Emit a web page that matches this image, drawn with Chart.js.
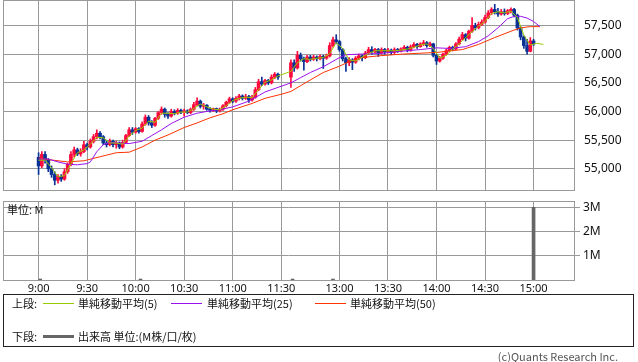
<!DOCTYPE html>
<html lang="ja">
<head>
<meta charset="utf-8">
<script src="https://cdn.jsdelivr.net/npm/chart.js@4.4.1/dist/chart.umd.min.js"></script>
<style>
  body { margin: 0; background: #fff; }
  #wrap { position: relative; width: 638px; height: 362px; overflow: hidden; background: #fff;
          font-family: "Noto Sans CJK JP", "Noto Sans", sans-serif; }
  #wrap canvas { position: absolute; left: 0; }
  .t { position: absolute; font-size: 11px; line-height: 13px; color: #111; white-space: nowrap; }
  .ln { position: absolute; width: 31px; height: 1px; }
</style>
</head>
<body>
<div id="wrap">
  <canvas id="price" width="638" height="191" style="top:0"></canvas>
  <canvas id="volume" width="638" height="100" style="top:195px"></canvas>
  <div class="t" style="left:7px;top:203px">単位: M</div>

  <div style="position:absolute;left:3px;top:294px;width:629px;height:51px;border:1px solid #222"></div>
  <div class="t" style="left:12px;top:297px">上段:</div>
  <div class="ln" style="left:43px;top:303px;background:#99cc00"></div>
  <div class="t" style="left:78px;top:297px">単純移動平均(5)</div>
  <div class="ln" style="left:171px;top:303px;background:#9911ee"></div>
  <div class="t" style="left:207px;top:297px">単純移動平均(25)</div>
  <div class="ln" style="left:315px;top:303px;background:#ff3300"></div>
  <div class="t" style="left:350px;top:297px">単純移動平均(50)</div>
  <div class="t" style="left:12px;top:330px">下段:</div>
  <div class="ln" style="left:43px;top:335px;height:3px;background:#666"></div>
  <div class="t" style="left:78px;top:330px">出来高 単位:(M株/口/枚)</div>
  <div class="t" style="right:20px;top:350px;color:#555">(c)Quants Research Inc.</div>
</div>

<script>
// 2-minute candles (open, high, low, close): 9:00-11:28, then 12:30-15:00
const opens = [
  55200, 55050, 55250, 55150, 55000, 54900, 54800, 54870, 54820, 54950, 55080, 55250, 55330, 55260, 55300, 55420,
  55380, 55480, 55560, 55620, 55560, 55450, 55420, 55480, 55420, 55450, 55380, 55460, 55580, 55680, 55640, 55700,
  55650, 55780, 55900, 55800, 55760, 55880, 55980, 56040, 55950, 55920, 56000, 55970, 56020, 55990, 56010, 55980,
  56040, 56120, 56180, 56090, 56110, 56040, 56020, 56050, 56010, 56040, 56100, 56160, 56220, 56180, 56230, 56270,
  56230, 56260, 56200, 56250, 56380, 56520, 56480, 56540, 56500, 56600, 56650,
  56600, 56850, 56760, 56980, 56920, 56870, 56950, 56910, 56950, 56920, 56960, 56930, 56970, 57150, 57250, 57220,
  57080, 56920, 56850, 56900, 56860, 56930, 56970, 56940, 57020, 57080, 57040, 57080, 57020, 57080, 57040, 57070,
  57030, 57080, 57050, 57090, 57120, 57070, 57130, 57170, 57130, 57180, 57200, 57150, 57180, 56980, 56880, 56930,
  57000, 57060, 57120, 57090, 57180, 57260, 57340, 57280, 57400, 57500, 57460, 57520, 57560, 57640, 57720, 57780,
  57740, 57700, 57740, 57710, 57760, 57780, 57680, 57460, 57300, 57150, 57050, 57230
];
const highs = [
  55280, 55300, 55300, 55180, 55050, 54950, 54900, 54900, 55000, 55100, 55300, 55380, 55360, 55350, 55480, 55450,
  55520, 55600, 55680, 55650, 55580, 55500, 55520, 55500, 55480, 55470, 55500, 55600, 55720, 55720, 55720, 55720,
  55820, 55940, 55930, 55840, 55900, 56000, 56080, 56060, 55980, 56040, 56030, 56050, 56040, 56040, 56030, 56060,
  56160, 56240, 56200, 56140, 56120, 56070, 56060, 56060, 56060, 56120, 56180, 56250, 56240, 56260, 56300, 56290,
  56300, 56280, 56280, 56420, 56560, 56600, 56560, 56560, 56640, 56680, 56670,
  56900, 56900, 57050, 57020, 56950, 56980, 56980, 56980, 56970, 56990, 56980, 57000, 57200, 57300, 57340, 57240,
  57100, 56950, 56940, 56920, 56960, 57000, 56990, 57050, 57120, 57130, 57100, 57100, 57110, 57100, 57100, 57090,
  57110, 57100, 57110, 57150, 57140, 57160, 57200, 57190, 57200, 57240, 57220, 57210, 57190, 57000, 56960, 57020,
  57090, 57140, 57140, 57200, 57300, 57380, 57360, 57420, 57640, 57540, 57560, 57600, 57680, 57760, 57810, 57870,
  57800, 57780, 57790, 57780, 57810, 57800, 57700, 57480, 57320, 57260, 57290, 57260
];
const lows = [
  54900, 55020, 55100, 54950, 54850, 54720, 54750, 54780, 54800, 54920, 55050, 55200, 55230, 55220, 55280, 55330,
  55360, 55450, 55520, 55520, 55420, 55380, 55400, 55380, 55360, 55350, 55360, 55440, 55560, 55600, 55620, 55620,
  55640, 55760, 55760, 55720, 55740, 55860, 55950, 55900, 55880, 55900, 55940, 55950, 55960, 55920, 55960, 55960,
  56020, 56100, 56060, 56040, 56020, 55990, 56000, 55980, 55990, 56020, 56080, 56140, 56150, 56160, 56200, 56200,
  56210, 56160, 56180, 56230, 56360, 56450, 56460, 56470, 56480, 56570, 56560,
  56420, 56700, 56740, 56880, 56720, 56850, 56880, 56890, 56880, 56900, 56750, 56910, 56950, 57120, 57180, 57050,
  56880, 56700, 56800, 56730, 56840, 56900, 56880, 56920, 57000, 57000, 57020, 56960, 57000, 57000, 57020, 56990,
  57010, 57030, 57040, 57070, 57040, 57050, 57110, 57100, 57120, 57150, 57120, 57130, 56950, 56820, 56860, 56910,
  56980, 57040, 57060, 57080, 57160, 57240, 57230, 57260, 57380, 57420, 57440, 57500, 57540, 57620, 57690, 57700,
  57660, 57680, 57680, 57690, 57720, 57650, 57420, 57250, 57100, 57000, 57040, 57150
];
const closes = [
  55050, 55250, 55150, 55000, 54900, 54800, 54870, 54820, 54950, 55080, 55250, 55330, 55260, 55300, 55420, 55380,
  55480, 55560, 55620, 55560, 55450, 55420, 55480, 55420, 55450, 55380, 55460, 55580, 55680, 55640, 55700, 55650,
  55780, 55900, 55800, 55760, 55880, 55980, 56040, 55950, 55920, 56000, 55970, 56020, 55990, 56010, 55980, 56040,
  56120, 56180, 56090, 56110, 56040, 56020, 56050, 56010, 56040, 56100, 56160, 56220, 56180, 56230, 56270, 56230,
  56260, 56200, 56250, 56380, 56520, 56480, 56540, 56500, 56600, 56650, 56600,
  56850, 56760, 56980, 56920, 56870, 56950, 56910, 56950, 56920, 56960, 56930, 56970, 57150, 57250, 57220, 57080,
  56920, 56850, 56900, 56860, 56930, 56970, 56940, 57020, 57080, 57040, 57080, 57020, 57080, 57040, 57070, 57030,
  57080, 57050, 57090, 57120, 57070, 57130, 57170, 57130, 57180, 57200, 57150, 57180, 56980, 56880, 56930, 57000,
  57060, 57120, 57090, 57180, 57260, 57340, 57280, 57400, 57500, 57460, 57520, 57560, 57640, 57720, 57780, 57740,
  57700, 57740, 57710, 57760, 57780, 57680, 57460, 57300, 57150, 57050, 57230, 57180
];

// moving averages
const ma5Times = [
  '9:00','9:04','9:08','9:12','9:16','9:20','9:24','9:28','9:32','9:36','9:40','9:44','9:48','9:52','9:56',
  '10:00','10:04','10:08','10:12','10:16','10:20','10:24','10:28','10:32','10:36','10:40','10:44','10:48','10:52','10:56',
  '11:00','11:04','11:08','11:12','11:16','11:20','11:24','11:28',
  '12:30','12:34','12:38','12:42','12:46','12:50','12:54','12:58','13:02','13:06','13:10','13:14','13:18','13:22','13:26',
  '13:30','13:34','13:38','13:42','13:46','13:50','13:54','13:58','14:02','14:06','14:10','14:14','14:18','14:22','14:26',
  '14:30','14:34','14:38','14:42','14:46','14:50','14:54','14:58','15:02','15:06'
];
const ma5 = [
  55150, 55150, 55020, 54860, 54880, 55090, 55280, 55330, 55430, 55550, 55540, 55450, 55450, 55430, 55570,
  55670, 55710, 55830, 55810, 55970, 55970, 55960, 55990, 55990, 56050, 56130, 56080, 56040, 56030, 56100,
  56190, 56230, 56250, 56240, 56380, 56510, 56550, 56620,
  56700, 56850, 56920, 56910, 56930, 56940, 57010, 57200, 57100, 56900, 56880, 56950, 57010, 57060, 57060,
  57060, 57060, 57070, 57090, 57120, 57160, 57180, 57100, 56930, 56980, 57090, 57180, 57290, 57390, 57490,
  57570, 57710, 57740, 57720, 57750, 57640, 57330, 57160, 57190, 57170
];
const ma25Times = [
  '9:00','9:06','9:12','9:18','9:24','9:30','9:32','9:36','9:40','9:44','9:50','9:56','10:04','10:10','10:16','10:22',
  '10:30','10:38','10:44','10:52','11:00','11:10','11:20','11:28','12:30','12:36','12:42','12:50','13:00','13:04','13:12',
  '13:24','13:38','13:50','14:00','14:08','14:18','14:26','14:32','14:38','14:44','14:48','14:52','14:56','15:00','15:04'
];
const ma25 = [
  55170, 55170, 55120, 55080, 55070, 55090, 55120, 55300, 55420, 55460, 55450, 55440, 55480, 55580, 55680, 55790,
  55900, 55970, 56000, 56030, 56080, 56180, 56340, 56420, 56500, 56590, 56680, 56780, 56940, 56990, 57000,
  57010, 57050, 57080, 57110, 57100, 57130, 57220, 57320, 57460, 57620, 57660, 57660, 57630, 57570, 57480
];
const ma50Times = [
  '9:00','9:06','9:18','9:28','9:38','9:48','9:56','10:04','10:12','10:20','10:30','10:38','10:46','10:54','11:00',
  '11:12','11:20','11:30','12:30','12:36','12:42','12:50','13:00','13:06','13:14','13:24','13:38','14:00','14:16',
  '14:26','14:36','14:46','14:52','14:58','15:04'
];
const ma50 = [
  55190, 55160, 55120, 55140, 55210, 55280, 55290, 55380, 55500, 55590, 55720, 55800, 55890, 55960, 56030,
  56140, 56230, 56300, 56350, 56450, 56550, 56680, 56790, 56870, 56940, 56970, 57000, 57030, 57080,
  57170, 57290, 57400, 57460, 57480, 57480
];

// volume (M)
const volTimes = ['9:01', '10:03', '12:31', '12:56', '15:00'];
const volumes = [0.04, 0.04, 0.04, 0.04, 3.0];

const timeTicks = ['9:00', '9:30', '10:00', '10:30', '11:00', '11:30', '13:00', '13:30', '14:00', '14:30', '15:00'];
const priceTicks = [55000, 55500, 56000, 56500, 57000, 57500];
const volTicks = [1, 2, 3];

// bar times: 2-minute bars of the two sessions
function fmt(mins) { return Math.floor(mins / 60) + ':' + String(mins % 60).padStart(2, '0'); }
const candleTimes = [];
for (let m = 9 * 60; m <= 11 * 60 + 28; m += 2) candleTimes.push(fmt(m));
for (let m = 12 * 60 + 30; m <= 15 * 60; m += 2) candleTimes.push(fmt(m));

// the lunch break is squeezed: 12:30 sits 6 minutes after 11:30
function slot(t) {
  const [h, m] = t.split(':').map(Number);
  const mins = (h - 9) * 60 + m;
  return mins <= 150 ? mins : mins - 54;
}
const slotLabel = {};
timeTicks.forEach(t => slotLabel[slot(t)] = t);

const UP = '#ff0a3c', DOWN = '#0a3296';
const GRID = '#999999';
const candleColors = closes.map((c, i) => c >= opens[i] ? UP : DOWN);

Chart.defaults.font.family = '"Noto Sans", sans-serif';
Chart.defaults.font.size = 11;
Chart.defaults.color = '#111';
Chart.defaults.animation = false;

const frame = {
  id: 'frame',
  beforeDatasetsDraw(chart) {
    const { ctx, chartArea: a } = chart;
    ctx.save();
    ctx.strokeStyle = GRID;
    ctx.lineWidth = 1;
    ctx.strokeRect(Math.round(a.left) + 0.5, Math.round(a.top) + 0.5,
                   Math.round(a.right - a.left), Math.round(a.bottom - a.top));
    ctx.restore();
  }
};

const xScale = (showLabels, h) => ({
  type: 'linear',
  min: -22,
  max: 331,
  offset: false,
  afterBuildTicks: s => { s.ticks = timeTicks.map(t => ({ value: slot(t) })); },
  afterFit: s => { s.height = h; s.paddingLeft = 0; s.paddingRight = 0; },
  ticks: { display: showLabels, padding: 2, maxRotation: 0, autoSkip: false,
           callback: v => slotLabel[v] || '' },
  grid: { color: GRID, drawTicks: false, offset: false },
  border: { display: false }
});

const yFit = s => { s.width = 64; s.paddingTop = 0; s.paddingBottom = 0; };

const line = (label, times, values, color, order) => ({
  type: 'line',
  label: label,
  data: times.map((t, i) => ({ x: slot(t), y: values[i] })),
  borderColor: color,
  borderWidth: 1,
  pointRadius: 0,
  tension: 0,
  order: order
});

new Chart(document.getElementById('price'), {
  type: 'bar',
  data: {
    datasets: [
      {
        label: 'wick',
        data: candleTimes.map((t, i) => ({ x: slot(t), y: [lows[i], highs[i]] })),
        backgroundColor: candleColors,
        barThickness: 1,
        grouped: false,
        order: 5
      },
      {
        label: 'body',
        data: candleTimes.map((t, i) => ({ x: slot(t), y: [opens[i], closes[i]] })),
        backgroundColor: candleColors,
        barThickness: 3,
        minBarLength: 1,
        grouped: false,
        order: 4
      },
      line('単純移動平均(50)', ma50Times, ma50, '#ff3300', 3),
      line('単純移動平均(25)', ma25Times, ma25, '#9911ee', 2),
      line('単純移動平均(5)', ma5Times, ma5, '#99cc00', 1)
    ]
  },
  options: {
    responsive: false,
    layout: { padding: { left: 3, top: 0, right: 0, bottom: 1 } },
    plugins: { legend: { display: false }, tooltip: { enabled: false } },
    scales: {
      x: xScale(false, 0),
      y: {
        position: 'right',
        min: 54630,
        max: 57945,
        afterBuildTicks: s => { s.ticks = priceTicks.map(v => ({ value: v })); },
        afterFit: yFit,
        ticks: { padding: 10, font: { size: 12 }, callback: v => v.toLocaleString('en-US') },
        grid: { color: GRID, drawTicks: false },
        border: { display: false }
      }
    }
  },
  plugins: [frame]
});

new Chart(document.getElementById('volume'), {
  type: 'bar',
  data: {
    datasets: [{
      label: '出来高',
      data: volTimes.map((t, i) => ({ x: slot(t), y: volumes[i] })),
      backgroundColor: '#666666',
      barThickness: 3,
      grouped: false
    }]
  },
  options: {
    responsive: false,
    layout: { padding: { left: 3, top: 6, right: 0, bottom: 0 } },
    plugins: { legend: { display: false }, tooltip: { enabled: false } },
    scales: {
      x: xScale(true, 15),
      y: {
        position: 'right',
        min: 0,
        max: 3.26,
        afterBuildTicks: s => { s.ticks = volTicks.map(v => ({ value: v })); },
        afterFit: yFit,
        ticks: { padding: 3, font: { size: 12 }, callback: v => v + 'M' },
        grid: { color: GRID, tickLength: 6, tickColor: GRID },
        border: { display: false }
      }
    }
  },
  plugins: [frame]
});
</script>
</body>
</html>
